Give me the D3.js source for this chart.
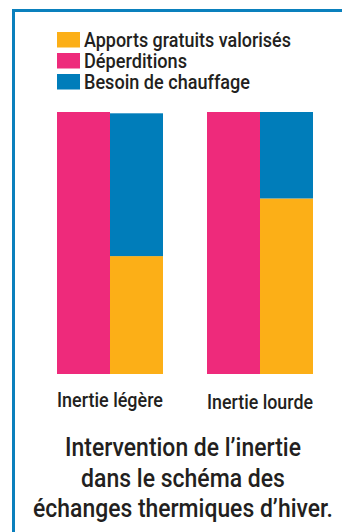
<!DOCTYPE html>
<html lang="fr">
<head>
<meta charset="utf-8">
<script src="https://cdn.jsdelivr.net/npm/d3@7"></script>
<style>
  html, body { margin: 0; padding: 0; background: #fff; }
  svg { display: block; }
  text { font-family: Roboto, "Liberation Sans", Arial, sans-serif; font-weight: 500; fill: #231f20; }
</style>
</head>
<body>
<svg id="chart" width="342" height="532"></svg>
<script>
// Bilan thermique d'hiver, en % des déperditions
const categories = ["Inertie légère", "Inertie lourde"];
const deperditions = [100, 100];
const apports = [45, 67];
const besoin = [54.5, 33];

const seriesNames = ["Apports gratuits valorisés", "Déperditions", "Besoin de chauffage"];
const seriesColors = ["#fcaf17", "#ee2a7b", "#007dba"];
const titleLines = ["Intervention de l’inertie", "dans le schéma des", "échanges thermiques d’hiver."];

const svg = d3.select("#chart");
const W = 342, H = 532;

// Écrit un texte condensé : la fonte est resserrée horizontalement jusqu'à la largeur voulue
function narrowText(parent, str, x, y, size, width, anchor) {
  const g = parent.append("g");
  const t = g.append("text")
    .attr("font-size", size)
    .attr("text-anchor", anchor)
    .text(str);
  const natural = t.node().getComputedTextLength();
  g.attr("transform", `translate(${x},${y}) scale(${width / natural},1)`);
  return g;
}

// Cadre : filet bleu en haut et à gauche
svg.append("path")
  .attr("d", `M13.5,${H} V10.5 H${W}`)
  .attr("fill", "none")
  .attr("stroke", "#0a80bd")
  .attr("stroke-width", 3);

// Légende
const legend = svg.append("g").attr("transform", "translate(57,32)");
const legendWidths = [207, 103, 166];
seriesNames.forEach((name, i) => {
  const g = legend.append("g").attr("transform", `translate(0,${i * 21})`);
  g.append("rect").attr("width", 23).attr("height", 15.5).attr("fill", seriesColors[i]);
  narrowText(g, name, 27, 15, 20.5, legendWidths[i], "start");
});

// Échelles
const x = d3.scaleBand().domain(categories).range([57, 313]).paddingInner(44 / 150).paddingOuter(0);
const sub = d3.scaleBand().domain(["dep", "bilan"]).range([0, x.bandwidth()]);
const y = d3.scaleLinear().domain([0, 100]).range([374, 112]);

const groups = svg.selectAll("g.group")
  .data(categories.map((c, i) => ({ c, dep: deperditions[i], app: apports[i], bes: besoin[i] })))
  .join("g")
  .attr("class", "group")
  .attr("transform", d => `translate(${x(d.c)},0)`);

// Colonne des déperditions
groups.append("rect")
  .attr("x", sub("dep"))
  .attr("width", sub.bandwidth())
  .attr("y", d => y(d.dep))
  .attr("height", d => y(0) - y(d.dep))
  .attr("fill", seriesColors[1]);

// Colonne empilée : apports gratuits + besoin de chauffage
groups.append("rect")
  .attr("x", sub("bilan"))
  .attr("width", sub.bandwidth())
  .attr("y", d => y(d.app))
  .attr("height", d => y(0) - y(d.app))
  .attr("fill", seriesColors[0]);

groups.append("rect")
  .attr("x", sub("bilan"))
  .attr("width", sub.bandwidth())
  .attr("y", d => y(d.app + d.bes))
  .attr("height", d => y(d.app) - y(d.app + d.bes))
  .attr("fill", seriesColors[2]);

// Libellés des catégories
groups.each(function (d, i) {
  narrowText(d3.select(this), d.c, x.bandwidth() / 2, 407 + i * 2, 20, 106, "middle");
});

// Titre
const titleWidths = [236, 204, 300];
titleLines.forEach((line, i) => {
  narrowText(svg, line, 183, 456 + i * 30.7, 25, titleWidths[i], "middle");
});
</script>
</body>
</html>
